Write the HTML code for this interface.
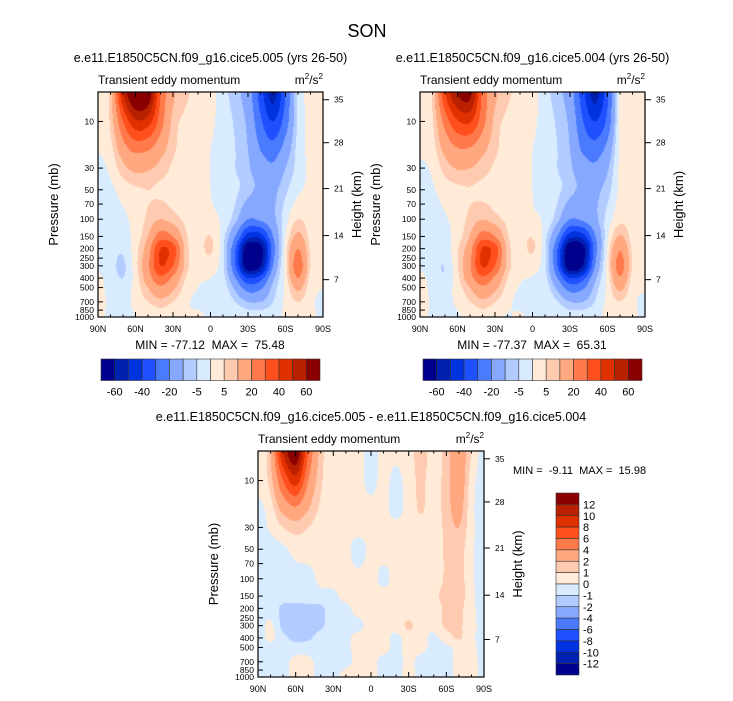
<!DOCTYPE html>
<html><head><meta charset="utf-8">
<style>
html,body{margin:0;padding:0;background:#fff;}
#wrap{position:relative;width:733px;height:701px;overflow:hidden;font-family:"Liberation Sans",sans-serif;}
canvas{position:absolute;}
svg{position:absolute;left:0;top:0;}
svg text{white-space:pre;}
</style></head>
<body>
<div id="wrap">
<canvas id="c1" style="left:98px;top:92px" width="225" height="225"></canvas>
<canvas id="c2" style="left:420px;top:92px" width="225" height="225"></canvas>
<canvas id="c3" style="left:258px;top:451px" width="226" height="226"></canvas>
<svg id="ov" width="733" height="701"></svg>
</div>
<script>
// ---- data ----
const lats = [90,80,70,60,50,40,30,20,10,0,-10,-20,-30,-40,-50,-60,-70,-80,-90];
const levs = [5,10,20,30,50,100,150,200,300,400,500,700,1000];
const field005 = [
 [2,8,50,75,70,30,12,6,4,2,-3,-8,-15,-35,-55,-30,-4,1,2],
 [1,6,30,48,45,25,8,4,3,1,-2,-6,-12,-28,-40,-25,-4,1,2],
 [0,3,15,22,20,13,6,3,2,0,-2,-5,-10,-20,-25,-15,-3,1,1],
 [-1,1,8,12,11,8,4,2,2,0,-2,-5,-9,-15,-18,-10,-3,1,1],
 [-1,-1,2,4,5,4,3,2,1,0,-2,-4,-8,-12,-12,-6,-1,1,1],
 [-1,-2,-1,2,6,10,7,4,2,1,-1,-8,-20,-18,-12,-2,5,2,1],
 [-1,-2,-2,2,10,25,20,6,3,5,-3,-20,-45,-45,-20,0,12,3,1],
 [-1,-3,-4,3,15,40,35,8,3,6,-4,-30,-70,-65,-25,2,20,4,1],
 [-1,-3,-6,3,18,40,30,8,2,2,-4,-30,-70,-60,-20,3,25,5,1],
 [1,-2,-5,2,15,28,18,5,1,0,-3,-20,-40,-35,-12,2,20,3,0],
 [2,-2,-3,2,10,18,12,3,0,-1,-2,-12,-25,-22,-8,1,12,2,0],
 [2,-1,-1,1,5,8,5,1,-1,-1,-1,-5,-10,-10,-5,1,5,1,-1],
 [1,-1,-1,0,1,2,1,0,1,-1,-1,-1,-2,-2,-2,1,2,1,-1]
];
const field004 = [
 [1.5,6,40,61,64,28,12,6,4,2,-3,-8,-15,-36,-55,-32,1,2,2],
 [0.7,4.5,24,39,41,24,8,4,3,1,-2,-6,-12,-29,-40,-27,1,1.5,2],
 [0.3,2.5,12.5,18.5,18,12,6,3,2,0,-2,-5,-10,-21,-25,-16,1,1,1],
 [-0.5,0.8,7,10.5,10,7.5,4,2,2,0,-2,-5,-9,-15,-18,-11,1,1,1],
 [-0.5,-0.5,2.2,3.7,4.6,3.7,2.7,1.8,1,0,-2,-4,-8,-12,-12,-7,1,1,1],
 [-0.5,-1.5,-0.5,2.3,6.3,9.8,6.7,3.7,1.8,0.7,-1,-8,-20,-18,-12,-3,3.5,1.8,1.5],
 [-0.5,-1.5,-1.4,2.5,10.4,25,20,5.7,2.7,4.7,-3,-20,-46,-45,-21,-1,10.5,2.7,1.5],
 [-0.5,-2.5,-2.8,4.4,16,41,35,8,2.7,5.7,-4,-30,-72,-65,-25,1,19,3.7,1.5],
 [-0.5,-3,-4.7,4.4,19,41,30,8,2,1.7,-4,-30,-71,-60,-20,2,24,4.7,1.3],
 [1.5,-2,-4.3,3.3,16,28,18,5,0.7,-0.3,-3,-20,-40,-35,-12,1.5,19,2.8,0.3],
 [2.5,-1.7,-2.5,2.5,10,18,12,3,-0.3,-1.3,-2,-12,-25,-22,-8,1.2,12,1.8,0.3],
 [2.3,-0.7,-0.7,0.7,4.8,8.3,5.3,1.2,-1.2,-1.3,-0.7,-4.7,-10,-10,-4.7,1.3,4.7,0.7,-0.7],
 [1.3,-0.7,-0.7,-0.3,0.7,2.3,1.3,-0.3,0.7,-1.3,-0.7,-0.7,-2.3,-1.7,-1.7,1.3,1.7,0.7,-0.7]
];
const fieldDiff = [
 [0.5,2,10,14,6,1.5,0.5,0.3,0.3,-0.3,0.3,0.3,0.5,1.5,0.5,1.5,3,1,-0.5],
 [0.3,1.5,6,9,4,1.2,0.5,0.3,0.3,-0.3,0.3,-0.3,0.5,1.2,0.5,1.5,3,0.5,-0.5],
 [-0.3,0.5,2.5,3.5,2,0.8,0.4,0.3,0.3,0.3,0.3,-0.3,0.4,1.1,0.4,1.5,2.5,0.3,-0.5],
 [-0.5,0.2,1,1.5,1,0.5,0.3,0.3,0.3,0.3,0.3,0.3,0.4,0.5,0.4,1.3,2,0.3,-0.5],
 [-0.5,-0.5,-0.2,0.3,0.4,0.3,0.3,0.2,-0.3,0.2,0.3,0.3,0.3,0.3,0.3,1.2,1.5,0.2,-0.5],
 [-0.5,-0.5,-0.5,-0.3,-0.3,0.2,0.3,0.3,0.2,0.3,-0.2,0.3,0.3,0.3,0.3,1.2,1.5,0.2,-0.5],
 [-0.5,-0.5,-0.6,-0.5,-0.4,-0.3,-0.2,0.3,0.3,0.3,0.3,0.3,0.3,0.3,0.6,1.5,1.5,0.3,-0.5],
 [-0.5,-0.5,-1.2,-1.4,-1.3,-1.2,-0.4,-0.2,0.3,0.3,0.3,0.3,0.3,0.3,0.3,1.3,1.3,0.3,-0.5],
 [-0.5,0.2,-1.3,-1.4,-1.4,-1.2,-0.3,-0.2,-0.2,0.3,0.3,0.3,1.2,0.3,0.3,1.2,1.2,0.3,-0.3],
 [-0.5,0.2,-0.7,-1.3,-1.2,-0.5,-0.3,-0.2,0.3,0.3,0.3,-0.2,0.4,0.3,-0.2,0.5,1.1,0.2,-0.3],
 [-0.5,-0.3,-0.5,-0.5,-0.4,-0.3,-0.3,-0.2,0.3,0.3,0.3,-0.2,0.3,0.2,-0.2,-0.2,0.3,0.2,-0.3],
 [-0.3,-0.3,-0.3,0.3,0.2,-0.3,-0.3,-0.2,0.2,0.3,-0.3,-0.3,0.2,-0.3,-0.3,-0.3,0.3,0.3,-0.3],
 [-0.3,-0.3,-0.3,0.3,0.3,-0.3,-0.3,0.3,0.3,0.3,-0.3,-0.3,0.3,-0.3,-0.3,-0.3,0.3,0.3,-0.3]
];
const levelsMain = [-60,-50,-40,-30,-20,-10,-5,0,5,10,20,30,40,50,60];
const labelsMain = ["-60","-40","-20","-5","5","20","40","60"];
const levelsDiff = [-12,-10,-8,-6,-4,-2,-1,0,1,2,4,6,8,10,12];
const pLabels = [10,30,50,70,100,150,200,250,300,400,500,700,850,1000];
const hLabels = ["35","28","21","14","7"];
const hPress = [6.0,16.5,48.6,147,415];
const latTicks = [90,60,30,0,-30,-60,-90];
const latNames = ["90N","60N","30N","0","30S","60S","90S"];
const colors = ["#00008c","#0020b0","#0033e0","#1f50ff","#4a7bff","#86a8ff","#b3ccff","#d8ebff","#ffebd8","#ffcbb0","#ffa880","#ff7a4a","#ff4f1c","#e03000","#b82000","#8a0000"];

const NS="http://www.w3.org/2000/svg";
const ov=document.getElementById('ov');
function mk(tag,attrs,name,txt){const e=document.createElementNS(NS,tag);for(const k in attrs)e.setAttribute(k,attrs[k]);
 
 
 if(txt!==undefined)e.textContent=txt;ov.appendChild(e);return e;}
function hex(c){return [parseInt(c.slice(1,3),16),parseInt(c.slice(3,5),16),parseInt(c.slice(5,7),16)];}
const rgb=colors.map(hex);
function colIdx(v,lv){let i=0;while(i<lv.length&&v>=lv[i])i++;return i;}
const LT=Math.log10(5), LR=Math.log10(1000/5);
const logLevs=levs.map(p=>Math.log10(p));
function cr(p0,p1,p2,p3,t){return 0.5*((2*p1)+(-p0+p2)*t+(2*p0-5*p1+4*p2-p3)*t*t+(-p0+3*p1-3*p2+p3)*t*t*t);}
function cl(a,n){return Math.max(0,Math.min(n-1,a));}
function rowAt(F,i,j,tx){const n=lats.length,r=F[cl(i,levs.length)];
 return cr(r[cl(j-1,n)],r[cl(j,n)],r[cl(j+1,n)],r[cl(j+2,n)],tx);}
function sample(F,lat,p){
 const lp=Math.log10(p);
 let j=0;while(j<lats.length-2&&lat<lats[j+1])j++;
 let tx=Math.min(1,Math.max(0,(lats[j]-lat)/(lats[j]-lats[j+1])));
 let i=0;while(i<levs.length-2&&lp>logLevs[i+1])i++;
 let ty=Math.min(1,Math.max(0,(lp-logLevs[i])/(logLevs[i+1]-logLevs[i])));
 return cr(rowAt(F,i-1,j,tx),rowAt(F,i,j,tx),rowAt(F,i+1,j,tx),rowAt(F,i+2,j,tx),ty);
}
function paint(id,F,lv){
 const c=document.getElementById(id),ctx=c.getContext('2d'),w=c.width,h=c.height;
 const img=ctx.createImageData(w,h);
 for(let y=0;y<h;y++){const p=Math.pow(10,LT+(y+0.5)/h*LR);
  for(let x=0;x<w;x++){const lat=90-(x+0.5)/w*180;const k=colIdx(sample(F,lat,p),lv);const q=(y*w+x)*4;
   img.data[q]=rgb[k][0];img.data[q+1]=rgb[k][1];img.data[q+2]=rgb[k][2];img.data[q+3]=255;}}
 ctx.putImageData(img,0,0);
}
function axes(x0,y0,w,h,title){
 const X=lat=>x0+(90-lat)/180*w, Y=p=>y0+(Math.log10(p)-LT)/LR*h;
 mk('rect',{x:x0,y:y0,width:w,height:h,fill:'none',stroke:'#000','stroke-width':1.2},'plot-frame');
 for(let l=-80;l<=80;l+=10){const mj=l%30===0;const L=mj?5:2.5;
  mk('line',{x1:X(l),x2:X(l),y1:y0+h,y2:y0+h-L,stroke:'#000'},'x-tick');
  mk('line',{x1:X(l),x2:X(l),y1:y0,y2:y0+L,stroke:'#000'},'x-tick-top');}
 latTicks.forEach((l,i)=>mk('text',{x:X(l),y:y0+h+15,'font-size':9,'text-anchor':'middle'},'x-tick-label',latNames[i]));
 pLabels.forEach(p=>{mk('line',{x1:x0,x2:x0+5,y1:Y(p),y2:Y(p),stroke:'#000'},'y-tick');
  mk('text',{x:x0-4,y:Y(p)+3,'font-size':8.5,'text-anchor':'end'},'y-tick-label',String(p));});
 hPress.forEach((p,i)=>{mk('line',{x1:x0+w,x2:x0+w+6,y1:Y(p),y2:Y(p),stroke:'#000'},'height-tick');
  mk('text',{x:x0+w+11,y:Y(p)+3,'font-size':8.5},'height-tick-label',hLabels[i]);});
 mk('text',{x:x0-40,y:y0+h/2,'font-size':13,'text-anchor':'middle',transform:`rotate(-90 ${x0-40} ${y0+h/2})`},'y-axis-title','Pressure (mb)');
 mk('text',{x:x0+w+38,y:y0+h/2,'font-size':13,'text-anchor':'middle',transform:`rotate(-90 ${x0+w+38} ${y0+h/2})`},'y-axis-right-title','Height (km)');
 mk('text',{x:x0,y:y0-8,'font-size':12},'left-subtitle','Transient eddy momentum');
 const u=mk('text',{x:x0+w,y:y0-8,'font-size':12,'text-anchor':'end'},'units-label','');
 u.innerHTML='m<tspan dy="-5" font-size="8">2</tspan><tspan dy="5">/s</tspan><tspan dy="-5" font-size="8">2</tspan>';
 mk('text',{x:x0+w/2,y:y0-30,'font-size':12.5,'text-anchor':'middle'},'panel-title',title);
}
function hbar(x0,y0,w,h,minmax,cx){
 const bw=w/colors.length;
 colors.forEach((c,i)=>mk('rect',{x:x0+i*bw,y:y0,width:bw,height:h,fill:c,stroke:'#333','stroke-width':0.6},'colorbar-box'));
 labelsMain.forEach((t,i)=>mk('text',{x:x0+(2*i+1)*bw,y:y0+h+15,'font-size':11,'text-anchor':'middle'},'colorbar-label',t));
 mk('text',{x:cx,y:y0-10,'font-size':12,'text-anchor':'middle'},'min-max-label',minmax);
}
paint('c1',field005,levelsMain);
paint('c2',field004,levelsMain);
paint('c3',fieldDiff,levelsDiff);
mk('text',{x:367,y:37,'font-size':18,'text-anchor':'middle'},'figure-title','SON');
axes(98,92,225,225,'e.e11.E1850C5CN.f09_g16.cice5.005 (yrs 26-50)');
axes(420,92,225,225,'e.e11.E1850C5CN.f09_g16.cice5.004 (yrs 26-50)');
axes(258,451,226,226,'e.e11.E1850C5CN.f09_g16.cice5.005 - e.e11.E1850C5CN.f09_g16.cice5.004');
hbar(101,359,219,21.5,'MIN = -77.12  MAX =  75.48',210);
hbar(423,359,219,21.5,'MIN = -77.37  MAX =  65.31',532);
// vertical colorbar
(function(){const x0=556,y0=493,w=23,h=182,bh=h/colors.length;
 for(let i=0;i<colors.length;i++){mk('rect',{x:x0,y:y0+i*bh,width:w,height:bh,fill:colors[colors.length-1-i],stroke:'#333','stroke-width':0.6},'colorbar-box');}
 for(let k=1;k<colors.length;k++){const v=levelsDiff[levelsDiff.length-k];
  mk('text',{x:x0+w+4,y:y0+k*bh+4,'font-size':11},'colorbar-label',String(v));}
 mk('text',{x:513,y:474,'font-size':11},'min-max-label','MIN =  -9.11  MAX =  15.98');
})();
</script>
</body></html>
